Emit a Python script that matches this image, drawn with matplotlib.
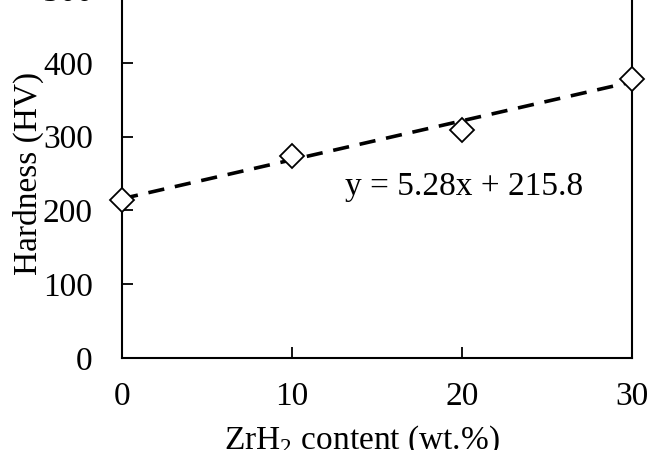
import matplotlib
matplotlib.use('Agg')
import matplotlib.pyplot as plt
import numpy as np

plt.rcParams['font.family'] = ['Liberation Serif', 'DejaVu Serif']
plt.rcParams['mathtext.fontset'] = 'custom'
plt.rcParams['mathtext.rm'] = 'Liberation Serif'

content = [0, 10, 20, 30]          # ZrH2 content (wt.%)
hardness = [214, 274, 309, 378]    # HV
err = [5, 5, 5, 5]
slope = 5.28
intercept = 215.8

fig = plt.figure(figsize=(6.5, 4.5), dpi=100)
ax = fig.add_axes([122/650, 92/450, 510/650, 369/450])

xfit = np.array([0, 30])
ax.plot(xfit, slope*xfit + intercept, color='black', linestyle=(0, (4.5, 3)), linewidth=2.6, zorder=2)
ax.errorbar(content, hardness, yerr=err, fmt='D', markersize=12, markerfacecolor='white',
            markeredgecolor='black', markeredgewidth=1.3, ecolor='black', elinewidth=1.2,
            capsize=3, zorder=3, clip_on=False)

ax.text(13.1, 232, 'y = 5.28x + 215.8', fontsize=24, ha='left', va='center')

ax.set_xlim(0, 30)
ax.set_ylim(0, 500)
ax.set_xticks([0, 10, 20, 30])
ax.set_yticks([0, 100, 200, 300, 400, 500])
ax.tick_params(axis='both', direction='in', length=8, width=1.3, labelsize=24)
ax.tick_params(axis='x', pad=17)
ax.tick_params(axis='y', pad=21)
for s in ax.spines.values():
    s.set_linewidth(1.5)

ax.set_xlabel('ZrH$_2$ content (wt.%)', fontsize=24)
ax.xaxis.set_label_coords(0.47, -0.178)
ax.set_ylabel('Hardness (HV)', fontsize=24)
ax.yaxis.set_label_coords(-0.152, 0.5)

plt.savefig('out.png', dpi=100)
